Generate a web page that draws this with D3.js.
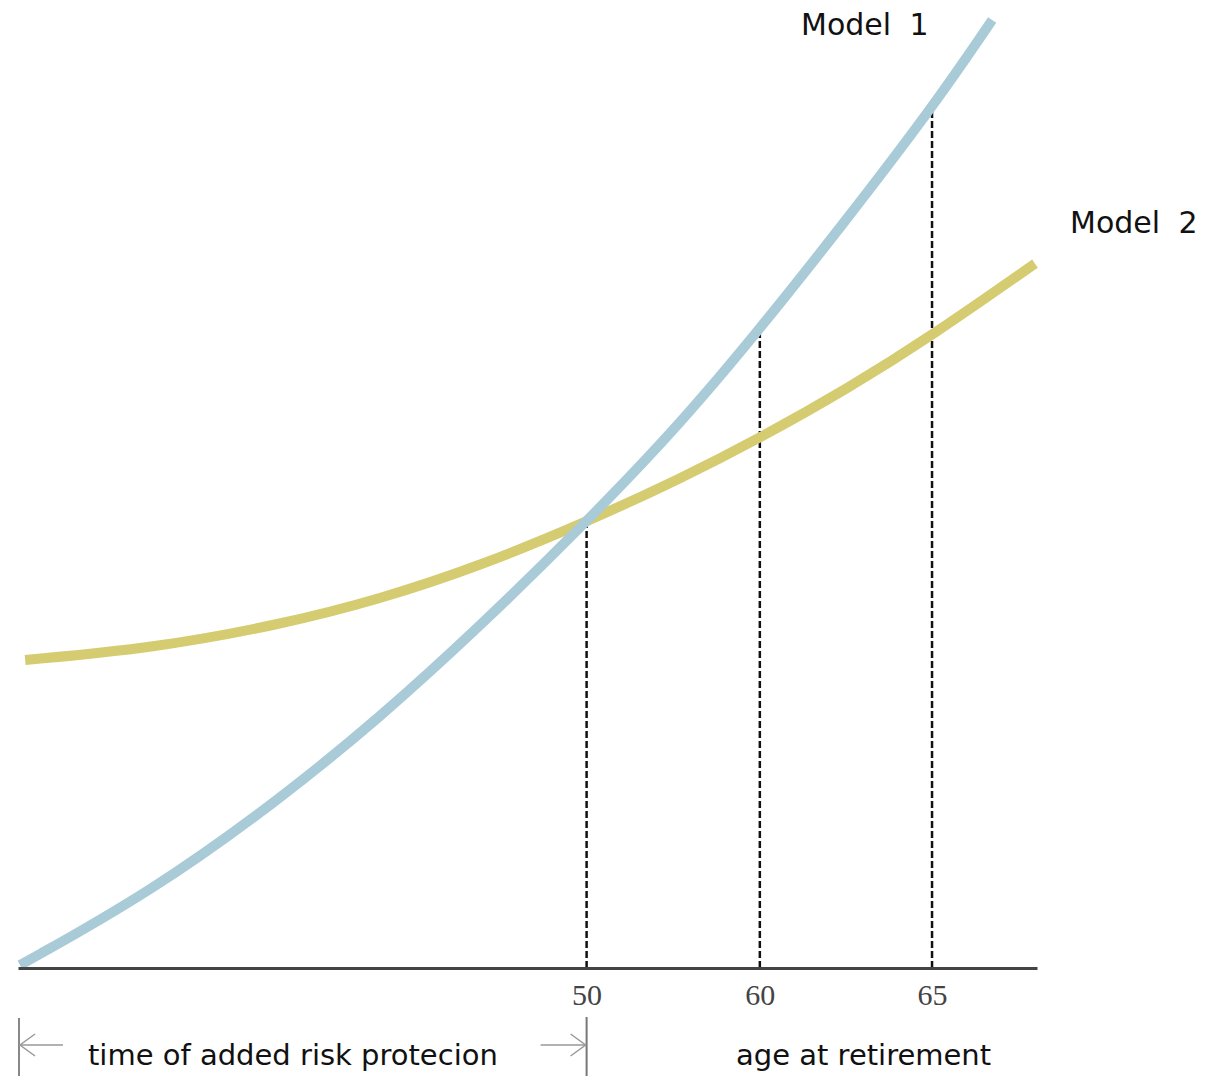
<!DOCTYPE html>
<html>
<head>
<meta charset="utf-8">
<script src="https://cdn.jsdelivr.net/npm/d3@7"></script>
<style>
  body { margin: 0; background: #fff; }
  svg { display: block; }
</style>
</head>
<body>
<div id="chart"></div>
<script>
// datos (x = posicion en la linea de tiempo 0-100, y = valor 0-100)
const model1X = [0.2, 13, 25.7, 35.5, 45.3, 55.8, 65, 72.8, 80.7, 89.7, 95.6];
const model1Y = [0.3, 8.0, 17.8, 26.4, 36.0, 47.05, 57.4, 67.4, 78.1, 90.7, 100];
const model2X = [0.7, 13, 25.7, 35.5, 45.3, 55.8, 65, 72.8, 81.4, 89.7, 99.8];
const model2Y = [32.5, 33.7, 36.2, 38.9, 42.4, 47.05, 51.6, 55.9, 61.1, 66.7, 74.3];

const tickPos = [55.8, 72.8, 89.7];
const tickLabels = ['50', '60', '65'];
const dropTo = [47.05, 67.4, 90.4];

const width = 1211;
const height = 1076;
const axisY = 968;

const svg = d3.select('#chart')
  .append('svg')
  .attr('width', width)
  .attr('height', height);

const x = d3.scaleLinear().domain([0, 100]).range([18, 1037]);
const y = d3.scaleLinear().domain([0, 100]).range([axisY, 20]);

// lineas discontinuas
svg.append('g')
  .selectAll('line')
  .data(tickPos)
  .enter()
  .append('line')
  .attr('x1', d => x(d))
  .attr('x2', d => x(d))
  .attr('y1', axisY)
  .attr('y2', (d, i) => y(dropTo[i]))
  .attr('stroke', '#111')
  .attr('stroke-width', 2.5)
  .attr('stroke-dasharray', '7,3');

// curvas
const line = d3.line()
  .x(d => x(d[0]))
  .y(d => y(d[1]))
  .curve(d3.curveBasis);

const series = [
  { name: 'Model 2', pts: d3.zip(model2X, model2Y), color: '#d5cc72' },
  { name: 'Model 1', pts: d3.zip(model1X, model1Y), color: '#a9cbd7' }
];

svg.append('g')
  .selectAll('path')
  .data(series)
  .enter()
  .append('path')
  .attr('d', d => line(d.pts))
  .attr('fill', 'none')
  .attr('stroke', d => d.color)
  .attr('stroke-width', 10);

// eje
const axis = d3.axisBottom(x)
  .tickValues(tickPos)
  .tickFormat((d, i) => tickLabels[i])
  .tickSize(0)
  .tickSizeOuter(0)
  .tickPadding(16);

const gAxis = svg.append('g')
  .attr('transform', `translate(0, ${axisY})`)
  .call(axis);

gAxis.select('.domain')
  .attr('stroke', '#444')
  .attr('stroke-width', 3);

gAxis.selectAll('text')
  .attr('font-family', '"Liberation Serif", serif')
  .attr('font-size', 30)
  .attr('fill', '#444');

// etiquetas de las series
svg.append('text')
  .attr('x', 801).attr('y', 35)
  .attr('font-family', '"DejaVu Sans", sans-serif')
  .attr('font-size', 30)
  .attr('word-spacing', 9)
  .attr('fill', '#111')
  .text('Model 1');

svg.append('text')
  .attr('x', 1070).attr('y', 233)
  .attr('font-family', '"DejaVu Sans", sans-serif')
  .attr('font-size', 30)
  .attr('word-spacing', 9)
  .attr('fill', '#111')
  .text('Model 2');

// flechas de abajo
const arrows = svg.append('g')
  .attr('stroke', '#999')
  .attr('stroke-width', 1.5)
  .attr('fill', 'none');

const xl = x(0) + 1;
const xr = x(tickPos[0]);
const ay = 1045;

arrows.append('line').attr('x1', xl).attr('x2', xl).attr('y1', 1018).attr('y2', height).attr('stroke', '#888').attr('stroke-width', 2);
arrows.append('line').attr('x1', xr).attr('x2', xr).attr('y1', 1017).attr('y2', height).attr('stroke', '#777').attr('stroke-width', 2);
arrows.append('line').attr('x1', xl).attr('x2', xl + 44).attr('y1', ay).attr('y2', ay);
arrows.append('path').attr('d', `M${xl + 16},${ay - 11}L${xl + 1},${ay}L${xl + 16},${ay + 11}`);
arrows.append('line').attr('x1', xr - 46).attr('x2', xr - 1).attr('y1', ay).attr('y2', ay);
arrows.append('path').attr('d', `M${xr - 16},${ay - 11}L${xr - 1},${ay}L${xr - 16},${ay + 11}`);

svg.append('text')
  .attr('x', 88).attr('y', 1065)
  .attr('font-family', '"DejaVu Sans", sans-serif')
  .attr('font-size', 29)
  .attr('fill', '#111')
  .text('time of added risk protecion');

svg.append('text')
  .attr('x', 736).attr('y', 1065)
  .attr('font-family', '"DejaVu Sans", sans-serif')
  .attr('font-size', 29)
  .attr('fill', '#111')
  .text('age at retirement');
</script>
</body>
</html>
